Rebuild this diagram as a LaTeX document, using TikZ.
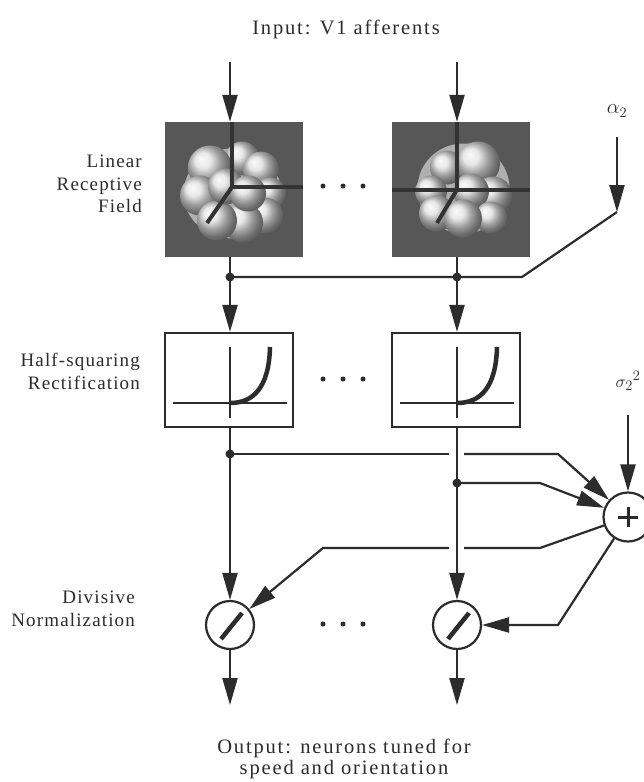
\documentclass[tikz,border=0pt]{standalone}
\usepackage{fontspec}
\setmainfont{Liberation Serif}
\newfontfamily\labfont{Liberation Serif}[LetterSpace=6]
\newfontfamily\cfont{Liberation Serif}[LetterSpace=9]
\usetikzlibrary{arrows.meta,calc}
\definecolor{ink}{HTML}{2C2C2C}
\definecolor{rfgray}{HTML}{575757}
\tikzset{
  wire/.style={draw=ink, line width=2.2pt},
  arr/.style={wire, -{Triangle[length=27pt,width=15pt]}},
  lab/.style={text=ink, font=\labfont\fontsize{19}{22.5}\selectfont, inner sep=0pt, align=right, anchor=north east},
  ctext/.style={text=ink, font=\cfont\fontsize{20.5}{21}\selectfont, inner sep=0pt, align=center},
  hsrbox/.style={draw=ink, line width=2.2pt, fill=white, minimum width=128pt, minimum height=94pt, inner sep=0pt},
  lrfbox/.style={fill=rfgray, minimum width=138pt, minimum height=135pt, inner sep=0pt},
  opcirc/.style={circle, draw=ink, line width=2.2pt, fill=white, inner sep=0pt},
  jdot/.style={circle, fill=ink, minimum size=9pt, inner sep=0pt},
  edot/.style={circle, fill=ink, minimum size=5pt, inner sep=0pt},
  lobe/.style={shading=ball, ball color=gray!25},
  blobbase/.style={fill=gray!62},
  rfaxis/.style={draw=black!80, line width=4pt},
  rectgraph/.pic={
    \draw[ink, line width=2.2pt] (1,-33) -- (1,38);
    \draw[ink, line width=2.2pt] (-56,23) -- (58,23);
    \draw[ink, line width=4.5pt] (1,23) .. controls (24,23) and (40,8) .. (41,-33);
  },
  rfleft/.pic={
    \begin{scope}
      \clip (-69,-67.5) rectangle (69,67.5);
      \fill[blobbase] (-1.5,4) ellipse (49 and 45);
      \foreach \x/\y/\r in {8/-31/17, 27/-20/18, -24/-22/22, 36/4/16, -34/6/20, 31/26/18, 9/33/20, -17/31/20, -8/-3/18, 14/4/18}
        \shade[lobe] (\x,\y) circle (\r);
      \draw[rfaxis] (-2,-67.5) -- (-2,-2.5) -- (69,-2.5);
      \draw[rfaxis] (-2,-2.5) -- (-27,33.5);
    \end{scope}
  },
  rfright/.pic={
    \begin{scope}
      \clip (-69,-67.5) rectangle (69,67.5);
      \fill[blobbase] (2.5,-1) ellipse (46 and 45);
      \foreach \x/\y/\r in {-14/-22/17, 17/-26/22, -30/2/16, 32/6/19, 10/2/18, -24/24/18, 30/28/16, 2/29/19}
        \shade[lobe] (\x,\y) circle (\r);
      \draw[rfaxis] (-4,-67.5) -- (-4,0);
      \draw[rfaxis] (-69,0) -- (69,0);
      \draw[rfaxis] (-4,0) -- (-24,33.5);
    \end{scope}
  }
}
\begin{document}
\begin{tikzpicture}[x=1pt,y=-1pt]
\useasboundingbox[fill=white] (0,0) rectangle (643,782);

% texts
\node[ctext, anchor=base] (intext) at (346,34) {Input: V1 afferents};
\node[ctext, anchor=base] (outtext) at (344,774) {Output: neurons tuned for\\speed and orientation};
\node[lab] (lrflab) at (142,155) {Linear\\Receptive\\Field};
\node[lab] (hsrlab) at (140,353) {Half-squaring\\Rectification};
\node[lab] (divlab) at (135,591) {Divisive\\Normalization};

% main blocks
\node[lrfbox] (lrf1) at (234,189.5) {};
\node[lrfbox] (lrf2) at (461,189.5) {};
\pic at (lrf1.center) {rfleft};
\pic at (lrf2.center) {rfright};
\node[hsrbox] (hsr1) at (229,380) {};
\node[hsrbox] (hsr2) at (456,380) {};
\pic at (hsr1.center) {rectgraph};
\pic at (hsr2.center) {rectgraph};
\node[opcirc, minimum size=49pt] (sum) at (628,517) {};
\draw[ink, line width=3pt] ($(sum.center)+(-10,0)$) -- ($(sum.center)+(10,0)$);
\draw[ink, line width=3pt] ($(sum.center)+(0,-10)$) -- ($(sum.center)+(0,10)$);
\node[opcirc, minimum size=48pt] (div1) at (230,625) {};
\node[opcirc, minimum size=48pt] (div2) at (457,625) {};
\draw[ink, line width=4.5pt] ($(div1.center)+(-9,14)$) -- ($(div1.center)+(12,-12)$);
\draw[ink, line width=4.5pt] ($(div2.center)+(-9,14)$) -- ($(div2.center)+(12,-12)$);

% ellipsis dots
\foreach \row/\yy in {a/186, b/379, c/624}
  \foreach \i/\xx in {1/323, 2/343, 3/363}
    \node[edot] (dot\row\i) at (\xx,\yy) {};

% coordinates
\coordinate (in1) at (230,62);
\coordinate (in2) at (457,62);
\coordinate (j1a) at (230,277);
\coordinate (j1b) at (457,277);
\coordinate (j2a) at (230,454);
\coordinate (j2b) at (457,483);
\coordinate (out1) at (230,705);
\coordinate (out2) at (457,705);
\coordinate (alpha) at (617,137);
\coordinate (abend) at (617,212);
\coordinate (aknee) at (522,277);
\coordinate (sig) at (628,415);
\coordinate (g1l) at (449,454);
\coordinate (g1r) at (464,454);
\coordinate (k1) at (558,454);
\coordinate (k2) at (540,483);
\coordinate (k3) at (540,548);
\coordinate (g2r) at (464,548);
\coordinate (g2l) at (449,548);
\coordinate (k4) at (323,548);
\coordinate (k5) at (558,625);

% alpha / sigma labels
\node[text=ink, inner sep=0pt, font=\fontsize{20}{20}\selectfont] (alab) at (617,111) {$\alpha_2$};
\node[text=ink, inner sep=0pt, font=\fontsize{19}{19}\selectfont] (slab) at (628,381) {$\sigma_2{}^2$};

% column 1
\draw[arr] (in1) -- (in1 |- lrf1.north);
\draw[wire] (lrf1.south -| in1) -- (j1a);
\draw[arr] (j1a) -- (j1a |- hsr1.north);
\draw[wire] (hsr1.south -| j1a) -- (j2a);
\draw[arr] (j2a) -- (j2a |- div1.north);
\draw[arr] (div1.south) -- (out1);
% column 2
\draw[arr] (in2) -- (in2 |- lrf2.north);
\draw[wire] (lrf2.south -| in2) -- (j1b);
\draw[arr] (j1b) -- (j1b |- hsr2.north);
\draw[wire] (hsr2.south -| j1b) -- (j2b);
\draw[arr] (j2b) -- (j2b |- div2.north);
\draw[arr] (div2.south) -- (out2);

% alpha gain line
\draw[arr] (alpha) -- (abend);
\draw[wire] (abend) -- (aknee) -- (j1a);

% pooling into sum
\draw[wire] (j2a) -- (g1l);
\draw[arr] (g1r) -- (k1) -- (sum);
\draw[arr] (j2b) -- (k2) -- (sum);
\draw[arr] (sig) -- (sum.north);

% normalization feedback
\draw[wire] (sum) -- (k3) -- (g2r);
\draw[arr] (g2l) -- (k4) -- (div1);
\draw[arr] (sum) -- (k5) -- (div2);

% junction dots
\foreach \j in {j1a, j1b, j2a, j2b}
  \node[jdot] (dot-\j) at (\j) {};
\end{tikzpicture}
\end{document}
